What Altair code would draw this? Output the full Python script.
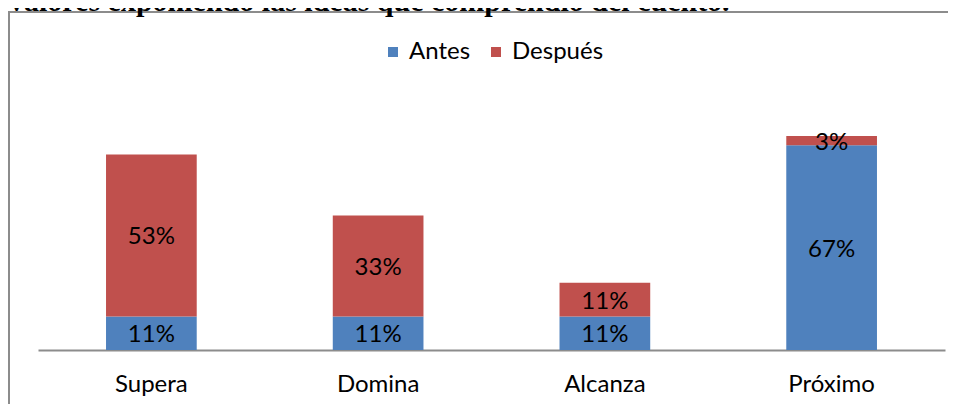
import altair as alt
import pandas as pd

categories = ["Supera", "Domina", "Alcanza", "Próximo"]
antes = [11, 11, 11, 67]
despues = [53, 33, 11, 3]
series = ["Antes", "Después"]
colors = ["#4F81BD", "#C0504D"]
title_text = "valores exponiendo las ideas que comprendió del cuento."

rows = []
for i, c in enumerate(categories):
    rows.append({"cat": c, "serie": "Antes", "value": antes[i], "ord": 0})
    rows.append({"cat": c, "serie": "Después", "value": despues[i], "ord": 1})
df = pd.DataFrame(rows)

FONT = "Lato"

base = alt.Chart(df).transform_stack(
    stack="value", groupby=["cat"], as_=["y0", "y1"],
    sort=[alt.SortField("ord", order="ascending")]
).transform_calculate(
    mid="(datum.y0 + datum.y1) / 2",
    lab="datum.value + '%'"
)

xenc = alt.X("cat:N", sort=categories, title=None,
             scale=alt.Scale(paddingInner=0.6, paddingOuter=0.3),
             axis=alt.Axis(domainColor="#8c8c8c", domainWidth=2, ticks=False,
                           labelAngle=0, labelFont=FONT, labelFontSize=24,
                           labelColor="black", labelPadding=22, grid=False))
yscale = alt.Scale(domain=[0, 90])

bars = base.mark_bar().encode(
    x=xenc,
    y=alt.Y("y0:Q", scale=yscale, axis=None),
    y2="y1:Q",
    color=alt.Color("serie:N", scale=alt.Scale(domain=series, range=colors),
                    legend=alt.Legend(orient="none", legendX=343, legendY=-35,
                                      direction="horizontal", title=None,
                                      symbolType="square", symbolSize=100,
                                      symbolStrokeWidth=0,
                                      labelFont=FONT, labelFontSize=24,
                                      labelColor="black", labelOffset=4,
                                      columnPadding=13, padding=0)),
)

labels = base.mark_text(font=FONT, fontSize=24, color="black", baseline="middle", dy=2).encode(
    x=alt.X("cat:N", sort=categories),
    y=alt.Y("mid:Q", scale=yscale),
    text="lab:N",
)

frame_df = pd.DataFrame({"k": [0]})
frame = alt.Chart(frame_df).mark_rect(fill=None, stroke="#8c8c8c", strokeWidth=2).encode(
    x=alt.value(-29), x2=alt.value(3000), y=alt.value(-63), y2=alt.value(3000)
)
title = alt.Chart(pd.DataFrame({"t": [title_text]})).mark_text(
    font="Liberation Serif", fontWeight="bold", fontSize=30, align="left",
    baseline="alphabetic", color="black"
).encode(x=alt.value(-29), y=alt.value(-64), text="t:N")

chart = alt.layer(frame, bars, labels, title).properties(
    width=907, height=275,
    autosize=alt.AutoSizeParams(type="none"),
    padding={"left": 30, "top": 67, "right": 3, "bottom": 54},
).configure_view(stroke=None)

chart.save("out.html", embed_options={"renderer": "svg", "actions": False})
